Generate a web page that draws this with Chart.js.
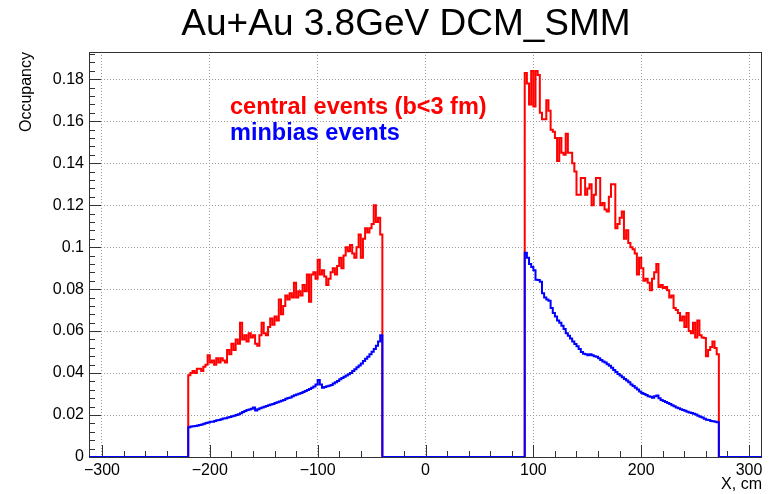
<!DOCTYPE html>
<html>
<head>
<meta charset="utf-8">
<script src="https://cdn.jsdelivr.net/npm/chart.js@4.4.1/dist/chart.umd.min.js"></script>
<style>
  html, body { margin: 0; padding: 0; background: #fff; }
  #wrap { width: 772px; height: 494px; position: relative; }
</style>
</head>
<body>
<div id="wrap"><canvas id="myChart"></canvas></div>
<script>
  // histogram binning (cm)
  var binWidth = 2;
  var xRange = [-312, 312];
  var leftStart = -220;   // first filled bin, negative side
  var rightStart = 92;    // first filled bin, positive side

  var xTickStep = 100, xMinorStep = 20;
  var yTickStep = 0.02, yMinorStep = 0.004;
  var yMax = 0.193;

  var titleText = 'Au+Au 3.8GeV DCM_SMM';
  var seriesNames = ['central events (b<3 fm)', 'minbias events'];

  // central events, bins from -220 to -40
  var centralLeft = [
    0.039, 0.040, 0.041, 0.040, 0.042, 0.042, 0.041, 0.043, 0.044, 0.0485,
    0.045, 0.046, 0.044, 0.047, 0.045, 0.047, 0.046, 0.045, 0.051, 0.049,
    0.054, 0.051, 0.056, 0.054, 0.064, 0.056, 0.058, 0.055, 0.059, 0.057,
    0.058, 0.054, 0.053, 0.058, 0.064, 0.059, 0.058, 0.062, 0.066, 0.063,
    0.067, 0.065, 0.075, 0.068, 0.072, 0.077, 0.075, 0.078, 0.076, 0.083,
    0.076, 0.079, 0.077, 0.082, 0.079, 0.087, 0.074, 0.087, 0.088, 0.085,
    0.094, 0.087, 0.089, 0.086, 0.082, 0.085, 0.088, 0.090, 0.087, 0.091,
    0.095, 0.090, 0.096, 0.100, 0.098, 0.101, 0.097, 0.095, 0.100, 0.106,
    0.095, 0.104, 0.109, 0.107, 0.109, 0.111, 0.120, 0.112, 0.114, 0.106
  ];
  // central events, bins from 92 to 272
  var centralRight = [
    0.183, 0.178, 0.168, 0.184, 0.167, 0.184, 0.182, 0.164, 0.161, 0.161,
    0.170, 0.165, 0.156, 0.155, 0.152, 0.141, 0.152, 0.145, 0.144, 0.154,
    0.145, 0.145, 0.140, 0.136, 0.125, 0.125, 0.133, 0.133, 0.125, 0.128,
    0.130, 0.120, 0.125, 0.133, 0.133, 0.120, 0.121, 0.118, 0.117, 0.124,
    0.130, 0.130, 0.109, 0.111, 0.114, 0.117, 0.104, 0.108, 0.102, 0.100,
    0.099, 0.097, 0.087, 0.095, 0.090, 0.084, 0.085, 0.083, 0.0795, 0.085,
    0.088, 0.092, 0.081, 0.082, 0.0805, 0.081, 0.0795, 0.076, 0.077, 0.071,
    0.070, 0.0686, 0.065, 0.067, 0.062, 0.0686, 0.060, 0.059, 0.064, 0.057,
    0.065, 0.058, 0.057, 0.0567, 0.048, 0.051, 0.0524, 0.055, 0.052, 0.049
  ];
  // minbias events
  var minbiasLeft = [
    0.0142, 0.0145, 0.0146, 0.0148, 0.0150, 0.0152, 0.0155, 0.0158, 0.0162, 0.0165,
    0.0168, 0.0168, 0.0172, 0.0175, 0.0176, 0.0180, 0.0183, 0.0185, 0.0188, 0.0191,
    0.0194, 0.0196, 0.0200, 0.0204, 0.0208, 0.0214, 0.0219, 0.0224, 0.0226, 0.0230,
    0.0236, 0.0222, 0.0228, 0.0232, 0.0236, 0.0240, 0.0243, 0.0247, 0.0250, 0.0253,
    0.0257, 0.0261, 0.0264, 0.0268, 0.0272, 0.0277, 0.0281, 0.0284, 0.0289, 0.0294,
    0.0298, 0.0302, 0.0305, 0.0310, 0.0314, 0.0319, 0.0324, 0.0330, 0.0336, 0.0345,
    0.0367, 0.0345, 0.0330, 0.0333, 0.0337, 0.0340, 0.0343, 0.0350, 0.0356, 0.0362,
    0.0370, 0.0376, 0.0382, 0.0388, 0.0394, 0.0400, 0.0410, 0.0418, 0.0428, 0.0436,
    0.0446, 0.0458, 0.0468, 0.0478, 0.0490, 0.0502, 0.0515, 0.0530, 0.0550, 0.0580
  ];
  var minbiasRight = [
    0.0973, 0.0950, 0.0920, 0.0906, 0.0890, 0.0845, 0.0843, 0.0835, 0.0780, 0.0760,
    0.0750, 0.0745, 0.0710, 0.0686, 0.0670, 0.0650, 0.0640, 0.0625, 0.0610, 0.0590,
    0.0578, 0.0565, 0.0550, 0.0538, 0.0528, 0.0515, 0.0500, 0.0492, 0.0490, 0.0485,
    0.0490, 0.0485, 0.0480, 0.0478, 0.0470, 0.0462, 0.0455, 0.0450, 0.0442, 0.0435,
    0.0425, 0.0414, 0.0405, 0.0395, 0.0388, 0.0380, 0.0372, 0.0365, 0.0356, 0.0345,
    0.0338, 0.0330, 0.0322, 0.0312, 0.0305, 0.0300, 0.0295, 0.0290, 0.0287, 0.0282,
    0.0290, 0.0293, 0.0280, 0.0272, 0.0267, 0.0262, 0.0257, 0.0252, 0.0247, 0.0242,
    0.0236, 0.0232, 0.0228, 0.0224, 0.0220, 0.0216, 0.0212, 0.0210, 0.0206, 0.0202,
    0.0196, 0.0192, 0.0188, 0.0182, 0.0178, 0.0176, 0.0172, 0.0170, 0.0168, 0.0166
  ];

  // step points at bin low edges, zero outside the filled ranges
  function histPoints(left, right) {
    var pts = [{x: xRange[0], y: 0}];
    left.forEach(function(v, i) { pts.push({x: leftStart + i * binWidth, y: v}); });
    pts.push({x: leftStart + left.length * binWidth, y: 0});
    right.forEach(function(v, i) { pts.push({x: rightStart + i * binWidth, y: v}); });
    pts.push({x: rightStart + right.length * binWidth, y: 0});
    pts.push({x: xRange[1], y: 0});
    return pts;
  }

  var font = '"Liberation Sans", Arial, Helvetica, sans-serif';

  // ROOT-like frame, inward ticks and text
  var decor = {
    id: 'decor',
    beforeDatasetsDraw: function(chart) {
      var ctx = chart.ctx, a = chart.chartArea, xs = chart.scales.x, ys = chart.scales.y;
      ctx.save();
      ctx.strokeStyle = '#333';
      ctx.lineWidth = 1;
      ctx.strokeRect(a.left + 0.5, a.top + 0.5, a.right - a.left - 1, a.bottom - a.top);
      ctx.beginPath();
      var n, v, p, len;
      for (n = Math.ceil(xRange[0] / xMinorStep); n * xMinorStep <= xRange[1]; n++) {
        v = n * xMinorStep;
        p = Math.round(xs.getPixelForValue(v)) + 0.5;
        len = (v % xTickStep === 0) ? 12 : 6;
        ctx.moveTo(p, a.bottom);
        ctx.lineTo(p, a.bottom - len);
      }
      for (n = 0; n * yMinorStep <= yMax; n++) {
        v = n * yMinorStep;
        p = Math.round(ys.getPixelForValue(v)) + 0.5;
        len = (n % 5 === 0) ? 12 : 6;
        ctx.moveTo(a.left, p);
        ctx.lineTo(a.left + len, p);
      }
      ctx.stroke();
      ctx.restore();
    },
    afterDraw: function(chart) {
      var ctx = chart.ctx;
      ctx.save();
      ctx.fillStyle = '#000';
      ctx.font = '37px ' + font;
      ctx.textAlign = 'center';
      ctx.textBaseline = 'alphabetic';
      ctx.fillText(titleText, 406, 35);
      ctx.textAlign = 'left';
      ctx.font = 'bold 23.5px ' + font;
      ctx.fillStyle = '#ff0000';
      ctx.fillText(seriesNames[0], 230, 114);
      ctx.fillStyle = '#0000ff';
      ctx.fillText(seriesNames[1], 230, 140);
      ctx.restore();
    }
  };

  var data = {
    datasets: [{
      label: seriesNames[1],
      data: histPoints(minbiasLeft, minbiasRight),
      borderColor: '#0000ff',
      borderWidth: 2,
      stepped: true,
      pointRadius: 0,
      fill: false
    }, {
      label: seriesNames[0],
      data: histPoints(centralLeft, centralRight),
      borderColor: '#ff0000',
      borderWidth: 2,
      stepped: true,
      pointRadius: 0,
      fill: false
    }]
  };

  var options = {
    responsive: true,
    maintainAspectRatio: false,
    animation: false,
    devicePixelRatio: 1,
    layout: { padding: { top: 52, right: 10, left: 0, bottom: 0 } },
    plugins: { legend: { display: false }, tooltip: { enabled: false }, title: { display: false } },
    scales: {
      x: {
        type: 'linear',
        min: xRange[0],
        max: xRange[1],
        afterFit: function(s) { s.height = 37; },
        grid: { color: '#9a9a9a', lineWidth: 1, drawTicks: false },
        border: { display: false, dash: [1, 2] },
        ticks: {
          stepSize: xTickStep,
          includeBounds: false,
          padding: 4,
          color: '#000',
          maxRotation: 0,
          font: { family: font, size: 16 },
          callback: function(v) { return v < 0 ? '\u2212' + (-v) : String(v); }
        },
        title: {
          display: true,
          text: 'X, cm',
          align: 'end',
          color: '#000',
          padding: { top: 0, bottom: 0 },
          font: { family: font, size: 16 }
        }
      },
      y: {
        min: 0,
        max: yMax,
        afterFit: function(s) { s.width = 89; },
        grid: { color: '#9a9a9a', lineWidth: 1, drawTicks: false },
        border: { display: false, dash: [1, 2] },
        ticks: {
          stepSize: yTickStep,
          includeBounds: false,
          padding: 5,
          color: '#000',
          font: { family: font, size: 16 },
          callback: function(v) { return String(parseFloat(v.toFixed(3))); }
        },
        title: {
          display: true,
          text: 'Occupancy',
          align: 'end',
          color: '#000',
          padding: { top: 17, bottom: 0 },
          font: { family: font, size: 16 }
        }
      }
    }
  };

  var ctx = document.getElementById('myChart').getContext('2d');
  var histChart = new Chart(ctx, {
    type: 'line',
    data: data,
    options: options,
    plugins: [decor]
  });
</script>
</body>
</html>
